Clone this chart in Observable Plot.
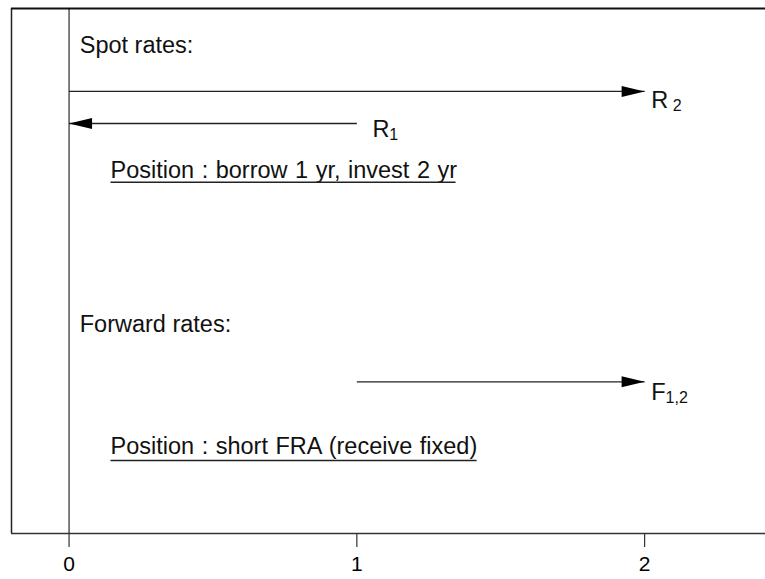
<!DOCTYPE html>
<html>
<head>
<meta charset="utf-8">
<script src="https://cdn.jsdelivr.net/npm/d3@7"></script>
<script src="https://cdn.jsdelivr.net/npm/@observablehq/plot@0.6"></script>
<style>
  html, body { margin: 0; padding: 0; background: #fff; }
  #chart svg { display: block; }
</style>
</head>
<body>
<div id="chart"></div>
<script>
// ---- data ----
const xTicks = [0, 1, 2];

const sectionText = ["Spot rates:", "Forward rates:"];
const sectionX = [0.037, 0.037];
const sectionY = [9.30, 3.99];

const arrowFrom = [0, 1, 1];
const arrowTo = [2, 0, 2];
const arrowY = [8.42, 7.81, 2.89];

const rateMain = ["R", "R", "F"];
const rateSub = [" 2", "1", "1,2"];
const rateX = [2.023, 1.054, 2.023];
const rateY = [8.24, 7.69, 2.69];

const positionText = ["Position : borrow 1 yr, invest 2 yr", "Position : short FRA (receive fixed)"];
const positionX = [0.144, 0.144];
const positionEnd = [1.343, 1.416];
const positionY = [6.92, 1.65];
const underlineY = [6.69, 1.39];

// ---- tables ----
const sections = sectionText.map((t, i) => ({text: t, x: sectionX[i], y: sectionY[i]}));
const arrows = arrowFrom.map((f, i) => ({x1: f, x2: arrowTo[i], y: arrowY[i], dir: arrowTo[i] < f ? 180 : 0}));
const labels = rateMain.map((m, i) => ({main: m, sub: rateSub[i], x: rateX[i], y: rateY[i]}));
const positions = positionText.map((t, i) => ({text: t, x1: positionX[i], x2: positionEnd[i], y: positionY[i], uy: underlineY[i]}));

// filled, elongated arrowhead with its tip at the anchor point
const arrowHead = {
  draw(ctx) {
    ctx.moveTo(0, 0);
    ctx.lineTo(-23, -5.5);
    ctx.lineTo(-23, 5.5);
    ctx.closePath();
  }
};

const plot = Plot.plot({
  width: 765,
  height: 579,
  marginLeft: 11,
  marginRight: 0,
  marginTop: 8,
  marginBottom: 46,
  style: {fontFamily: "'Liberation Sans', Arial, Helvetica, sans-serif", background: "#fff", color: "#000"},
  x: {domain: [-0.2, 2.42]},
  y: {domain: [0, 10], axis: null},
  marks: [
    // frame (left, top, bottom)
    Plot.ruleX([-0.2], {stroke: "#222", strokeWidth: 1.5}),
    Plot.ruleY([10], {stroke: "#111", strokeWidth: 2}),
    Plot.ruleY([0], {stroke: "#333", strokeWidth: 1.5}),
    // vertical line at time 0
    Plot.ruleX([0], {stroke: "#000", strokeWidth: 1}),
    // x axis
    Plot.axisX(xTicks, {tickSize: 14, tickPadding: 9, tickFormat: "d", fontSize: 21, stroke: "#333", strokeWidth: 1.2, label: null}),
    // section headings
    Plot.text(sections, {x: "x", y: "y", text: "text", textAnchor: "start", fontSize: 23.5, fill: "#111"}),
    // arrows
    Plot.link(arrows, {x1: "x1", x2: "x2", y1: "y", y2: "y", stroke: "#222", strokeWidth: 1.3}),
    Plot.dot(arrows, {x: "x2", y: "y", symbol: arrowHead, rotate: "dir", fill: "#000", stroke: "none"}),
    // rate labels
    Plot.text(labels, {x: "x", y: "y", text: "main", textAnchor: "start", fontSize: 23.5, fill: "#111", className: "rate-label"}),
    // positions with underline
    Plot.text(positions, {x: "x1", y: "y", text: "text", textAnchor: "start", fontSize: 23.5, fill: "#111", className: "position-label"}),
    Plot.link(positions, {x1: "x1", x2: "x2", y1: "uy", y2: "uy", stroke: "#222", strokeWidth: 1.5})
  ]
});

// subscripts for the rate labels
d3.select(plot).selectAll("g.rate-label text").each(function () {
  const i = d3.select(this).datum();
  d3.select(this).append("tspan")
    .attr("dy", 3)
    .attr("font-size", 16)
    .style("white-space", "pre")
    .text(labels[i].sub);
});
d3.select(plot).selectAll("g.position-label text").style("word-spacing", "1px");

document.getElementById("chart").append(plot);
</script>
</body>
</html>
